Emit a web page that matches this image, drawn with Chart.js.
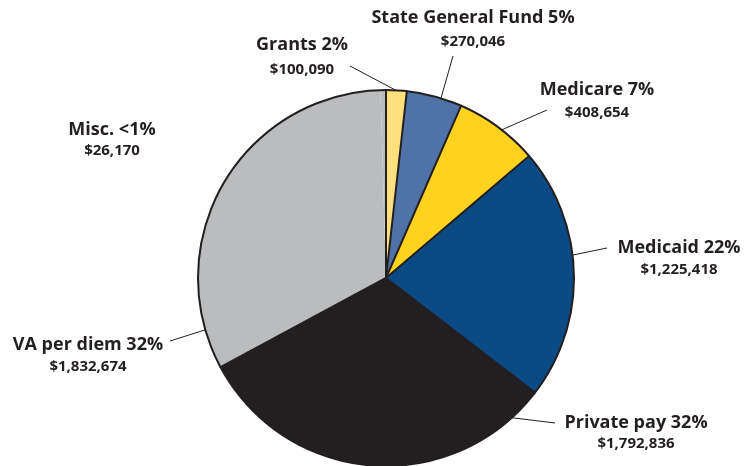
<!DOCTYPE html>
<html>
<head>
<meta charset="utf-8">
<script src="https://cdn.jsdelivr.net/npm/chart.js@4"></script>
<style>
  html, body { margin: 0; padding: 0; background: #fff; }
  #wrap { width: 744px; height: 466px; position: relative; }
</style>
</head>
<body>
<div id="wrap"><canvas id="pie"></canvas></div>
<script>
// data
const categories = ["Grants", "State General Fund", "Medicare", "Medicaid", "Private pay", "VA per diem", "Misc."];
const amounts = [100090, 270046, 408654, 1225418, 1792836, 1832674, 26170];
const percentLabels = ["2%", "5%", "7%", "22%", "32%", "32%", "<1%"];
const sliceColors = ["#FFE07C", "#4F73A7", "#FFD21F", "#0B4A85", "#231F20", "#BBBCBE", "#BBBCBE"];
// misc is folded into the grey area in the original, so no divider before it
const dividers = [true, true, true, true, true, true, false];

// label placement: text centre x, title y, value y, leader start, leader end angle (deg from top)
const labelLayout = [
  { x: 302, y: 45, vy: 70, lx: 350, ly: 66, ang: 3 },
  { x: 473, y: 18, vy: 42, lx: 453, ly: 56, ang: 17 },
  { x: 597, y: 90, vy: 113, lx: 547, ly: 110, ang: 38 },
  { x: 679, y: 248, vy: 270, lx: 607, ly: 248, ang: 83 },
  { x: 636, y: 423, vy: 444, lx: 555, ly: 423, ang: 138 },
  { x: 88, y: 345, vy: 367, lx: 170, ly: 341, ang: 254 },
  { x: 112, y: 130, vy: 151, lx: null, ly: null, ang: null },
];

const fmt = (v) => "$" + v.toLocaleString("en-US");

// outline + dividers drawn from the arc elements
const outlinePlugin = {
  id: "outline",
  afterDatasetsDraw(chart) {
    const c = chart.ctx;
    const arcs = chart.getDatasetMeta(0).data;
    const cx = arcs[0].x, cy = arcs[0].y, r = arcs[0].outerRadius;
    c.save();
    c.strokeStyle = "#231F20";
    c.lineWidth = 2;
    c.lineCap = "round";
    arcs.forEach((a, i) => {
      if (!dividers[i]) return;
      c.beginPath();
      c.moveTo(cx, cy);
      c.lineTo(cx + r * Math.cos(a.startAngle), cy + r * Math.sin(a.startAngle));
      c.stroke();
    });
    c.beginPath();
    c.arc(cx, cy, r, 0, Math.PI * 2);
    c.stroke();
    c.restore();
  },
};

const labelPlugin = {
  id: "sliceLabels",
  afterDraw(chart) {
    const c = chart.ctx;
    const arc0 = chart.getDatasetMeta(0).data[0];
    const cx = arc0.x, cy = arc0.y, r = arc0.outerRadius;
    c.save();
    c.fillStyle = "#231F20";
    c.strokeStyle = "#231F20";
    c.lineWidth = 1;
    c.textAlign = "center";
    c.textBaseline = "middle";
    labelLayout.forEach((p, i) => {
      if (p.lx !== null) {
        const a = (p.ang - 90) * Math.PI / 180;
        c.beginPath();
        c.moveTo(p.lx, p.ly);
        c.lineTo(cx + r * Math.cos(a), cy + r * Math.sin(a));
        c.stroke();
      }
      c.font = "700 18px 'Open Sans'";
      c.fillText(categories[i] + " " + percentLabels[i], p.x, p.y);
      c.font = "700 15px 'Open Sans'";
      c.fillText(fmt(amounts[i]), p.x, p.vy);
    });
    c.restore();
  },
};

new Chart(document.getElementById("pie"), {
  type: "pie",
  data: {
    labels: categories,
    datasets: [
      {
        data: amounts,
        backgroundColor: sliceColors,
        borderWidth: 0,
      },
    ],
  },
  options: {
    responsive: true,
    maintainAspectRatio: false,
    animation: false,
    layout: {
      padding: { top: 90, bottom: 0, left: 198, right: 170 },
    },
    plugins: {
      legend: { display: false },
      tooltip: { enabled: false },
    },
  },
  plugins: [outlinePlugin, labelPlugin],
});
</script>
</body>
</html>
